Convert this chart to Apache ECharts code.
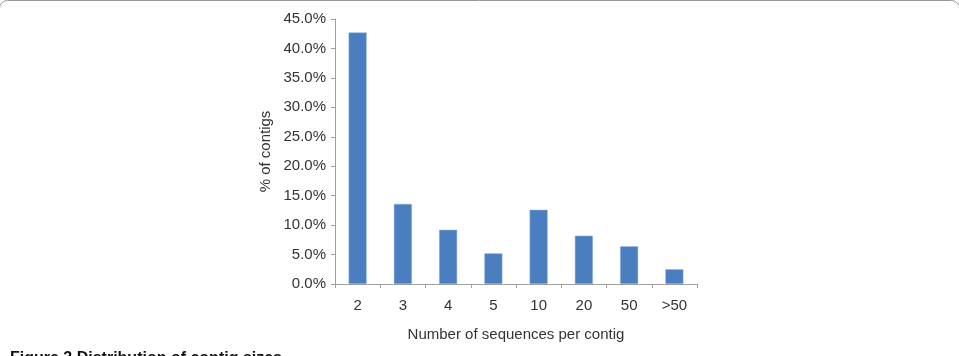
<!DOCTYPE html>
<html>
<head>
<meta charset="utf-8">
<script src="https://cdn.jsdelivr.net/npm/echarts@6/dist/echarts.min.js"></script>
<style>
  html, body { margin: 0; padding: 0; background: #fff; }
  #chart { width: 959px; height: 356px; }
</style>
</head>
<body>
<div id="chart"></div>
<script>
// sequences per contig vs share of contigs (%)
var categories = ['2', '3', '4', '5', '10', '20', '50', '>50'];
var percentValues = [42.7, 13.6, 9.2, 5.2, 12.6, 8.2, 6.4, 2.5];
var yTicks = [0, 5, 10, 15, 20, 25, 30, 35, 40, 45];

var chart = echarts.init(document.getElementById('chart'), null, { renderer: 'canvas' });

var option = {
  animation: false,
  textStyle: { fontFamily: 'Liberation Sans, Arial, sans-serif' },
  grid: { left: 335, right: 262, top: 19, bottom: 72 },
  xAxis: {
    type: 'category',
    data: categories,
    name: 'Number of sequences per contig',
    nameLocation: 'middle',
    nameGap: 43,
    nameTextStyle: { fontSize: 15, color: '#333' },
    axisLine: { lineStyle: { color: '#a0a0a0', width: 1 } },
    axisTick: { show: true, alignWithLabel: false, length: 4, lineStyle: { color: '#a0a0a0' } },
    axisLabel: { fontSize: 15, color: '#333', margin: 14 }
  },
  yAxis: {
    type: 'value',
    min: yTicks[0],
    max: yTicks[yTicks.length - 1],
    interval: 5,
    name: '% of contigs',
    nameLocation: 'middle',
    nameGap: 62,
    nameTextStyle: { fontSize: 15, color: '#333' },
    axisLine: { show: true, lineStyle: { color: '#a0a0a0', width: 1 } },
    axisTick: { show: true, length: 4, lineStyle: { color: '#a0a0a0' } },
    splitLine: { show: false },
    axisLabel: {
      fontSize: 15,
      color: '#333',
      margin: 9,
      formatter: function (v) { return v.toFixed(1) + '%'; }
    }
  },
  series: [{
    type: 'bar',
    data: percentValues,
    barWidth: 18,
    itemStyle: { color: '#4a7ebf', borderColor: '#8fb3e0', borderWidth: 0.5 }
  }],
  graphic: [
    {
      type: 'rect',
      shape: { x: -0.5, y: 0.5, width: 960, height: 420, r: 8 },
      style: { fill: 'none', stroke: '#999', lineWidth: 1 },
      silent: true
    },
    {
      type: 'text',
      left: 10,
      top: 351,
      style: {
        text: 'Figure 3 Distribution of contig sizes',
        font: 'bold 16px Liberation Sans, Arial, sans-serif',
        fill: '#111'
      },
      silent: true
    }
  ]
};

chart.setOption(option);
</script>
</body>
</html>
